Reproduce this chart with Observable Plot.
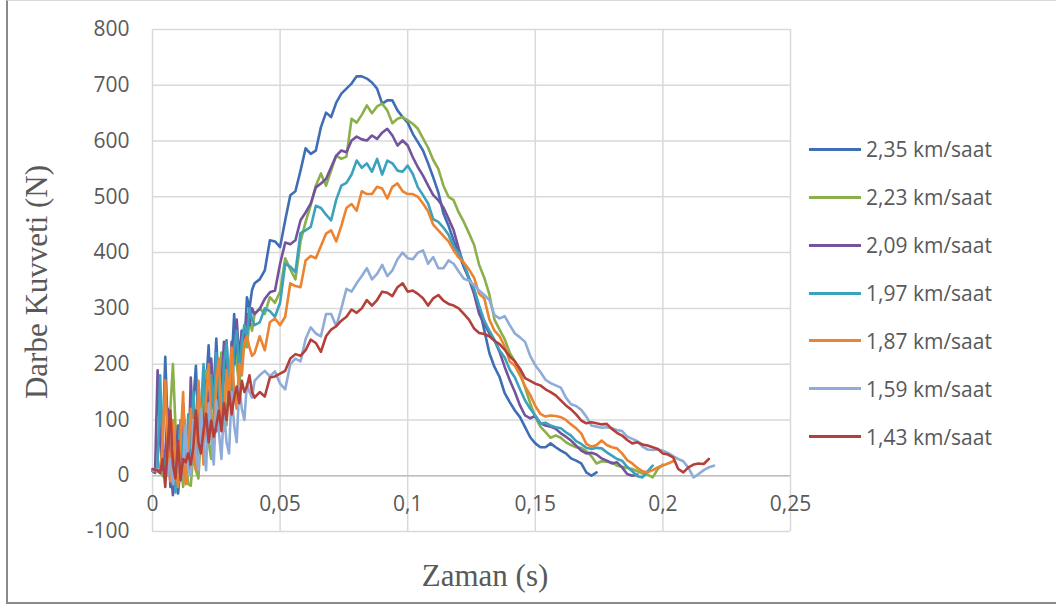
<!DOCTYPE html>
<html>
<head>
<meta charset="utf-8">
<script src="https://cdn.jsdelivr.net/npm/d3@7"></script>
<script src="https://cdn.jsdelivr.net/npm/@observablehq/plot@0.6"></script>
<style>
  html, body { margin: 0; padding: 0; background: #fff; }
  #wrap { position: relative; width: 1056px; height: 608px; overflow: hidden; background: #fff; }
  #frame { position: absolute; left: 6px; top: 0; width: 1100px; height: 601px; border: 2px solid #8a8a8a; border-top: 1px solid #d9d9d9; box-sizing: content-box; }
  #chart { position: absolute; left: 0; top: 0; }
  .atitle { position: absolute; font-family: "Liberation Serif", "Times New Roman", serif; font-size: 31px; color: #595959; white-space: nowrap; transform: translate(-50%, -50%); }
  #ytitle { left: 37px; top: 282px; transform: translate(-50%, -50%) rotate(-90deg); }
  #xtitle { left: 485px; top: 576px; }
  .lg { position: absolute; font-family: "Open Sans", sans-serif; font-size: 21px; color: #595959; white-space: nowrap; }
  .lgline { position: absolute; height: 3px; width: 52px; }
</style>
</head>
<body>
<div id="wrap">
  <div id="frame"></div>
  <div id="chart"></div>
  <div id="ytitle" class="atitle">Darbe Kuvveti (N)</div>
  <div id="xtitle" class="atitle">Zaman (s)</div>
  <div id="legend"></div>
</div>
<script>
// Shared time axis (s)
const time = [
  0,0.001,0.002,0.003,0.004,0.005,0.006,0.007,0.008,0.009,
  0.010,0.011,0.012,0.013,0.014,0.015,0.016,0.017,0.018,0.019,
  0.020,0.021,0.022,0.023,0.024,0.025,0.026,0.027,0.028,0.029,
  0.030,0.031,0.032,0.033,0.034,0.035,0.036,0.037,0.038,0.039,
  0.040,
  0.042,0.044,0.046,0.048,0.050,0.052,0.054,0.056,0.058,0.060,
  0.062,0.064,0.066,0.068,0.070,0.072,0.074,0.076,0.078,0.080,
  0.082,0.084,0.086,0.088,0.090,0.092,0.094,0.096,0.098,0.100,
  0.102,0.104,0.106,0.108,0.110,0.112,0.114,0.116,0.118,0.120,
  0.122,0.124,0.126,0.128,0.130,0.132,0.134,0.136,0.138,0.140,
  0.142,0.144,0.146,0.148,0.150,0.152,0.154,0.156,0.158,0.160,
  0.162,0.164,0.166,0.168,0.170,0.172,0.174,0.176,0.178,0.180,
  0.182,0.184,0.186,0.188,0.190,0.192,0.194,0.196,0.198,0.200,
  0.202,0.204,0.206,0.208,0.210,0.212,0.214,0.216,0.218,0.220
];

// 2,35 km/saat
const s235 = [
  10,10,8,5,60,213,80,-20,-10,60,
  -32,20,90,40,10,60,130,197,90,50,
  130,160,234,120,150,246,140,110,180,243,
  150,200,290,200,180,260,230,320,300,333,
  345,
  352,368,422,420,410,458,503,510,547,587,
  577,583,625,651,643,669,685,694,703,716,
  716,712,705,694,667,673,673,655,643,633,
  613,598,583,560,535,508,470,448,422,398,
  374,354,333,302,261,220,195,177,148,132,
  117,105,87,69,58,51,51,58,51,45,
  40,31,27,22,6,0,6
];
// 2,23 km/saat
const s223 = [
  10,10,8,6,0,-5,20,120,200,90,
  -10,40,-20,30,-15,-18,40,10,-5,80,
  150,189,60,30,120,80,160,221,130,90,
  180,150,230,200,160,220,270,230,280,260,
  290,
  300,290,320,310,330,390,370,352,420,455,
  485,520,542,520,547,574,568,572,640,633,
  647,664,650,662,667,655,632,640,643,637,
  631,622,605,588,566,550,520,500,494,472,
  455,435,414,378,355,325,280,262,245,220,
  205,185,158,130,105,88,78,68,72,68,
  60,55,51,50,44,35,22,26,25,24,
  18,16,14,12,8,4,2,-3,12,20
];
// 2,09 km/saat
const s209 = [
  8,5,189,60,10,40,120,20,-35,20,
  90,30,130,60,10,176,70,40,150,90,
  60,170,110,210,140,80,200,150,240,170,
  140,240,200,280,210,260,240,290,270,300,
  290,
  299,317,329,332,380,418,415,422,458,472,
  488,517,524,532,553,574,583,580,601,608,
  603,601,610,604,615,622,610,592,601,592,
  571,553,538,520,503,494,481,461,440,407,
  377,353,326,290,272,255,243,222,195,171,
  150,126,108,103,107,94,90,88,84,76,
  70,63,54,45,40,41,38,31,27,22,
  24,15,3,0,2
];
// 1,97 km/saat
const s197 = [
  10,8,15,180,40,0,60,-10,20,-30,
  40,100,20,0,110,50,150,80,20,120,
  200,100,60,180,120,220,150,100,200,240,
  160,130,230,260,180,240,270,250,300,280,
  270,
  275,300,295,285,310,380,375,365,435,440,
  446,484,480,468,458,495,520,525,540,565,
  552,560,545,568,540,565,560,547,545,556,
  541,517,503,488,460,455,445,432,410,400,
  380,355,335,305,278,260,243,225,212,190,
  176,155,135,120,108,93,95,90,87,85,
  78,72,62,57,50,48,50,49,42,36,
  30,27,16,8,-1,-3,8,18
];
// 1,87 km/saat
const s187 = [
  10,10,8,5,60,171,50,-10,100,30,
  -20,60,150,-15,40,120,60,10,170,90,
  20,140,200,100,50,170,210,110,80,190,
  140,230,150,120,200,180,240,250,230,215,
  220,
  250,225,275,282,270,285,345,340,338,386,
  394,390,412,434,440,420,448,480,487,475,
  510,505,505,518,515,497,518,524,510,505,
  505,500,488,474,450,440,430,420,404,391,
  382,370,355,326,318,280,260,250,232,205,
  197,180,160,145,125,111,106,108,107,105,
  100,92,85,76,57,52,55,63,55,51,
  49,40,28,22,14,8,6,10,15,18,
  22,26
];
// 1,59 km/saat
const s159 = [
  10,10,12,8,5,10,0,30,-15,10,
  60,-10,20,90,10,0,100,40,10,120,
  60,10,130,70,20,135,80,30,120,60,
  40,150,90,60,160,120,100,165,150,140,
  170,
  180,188,178,187,165,155,200,210,205,245,
  266,255,250,290,290,268,300,335,330,345,
  358,372,352,362,378,358,368,388,400,390,
  388,400,404,380,392,372,372,386,380,366,
  353,350,342,332,324,315,288,282,286,270,
  255,248,240,215,198,186,172,166,162,158,
  140,128,125,118,106,90,88,86,87,85,
  82,80,70,66,62,52,47,46,47,45,
  41,35,30,26,14,-3,3,10,15,18
];
// 1,43 km/saat
const s143 = [
  12,10,10,5,30,-20,60,117,20,-5,
  63,-8,30,24,40,20,51,117,60,40,
  81,111,60,99,70,90,117,80,130,100,
  150,110,140,160,130,170,150,160,180,150,
  140,
  150,142,176,178,183,188,210,218,215,225,
  244,238,222,250,262,268,278,285,298,292,
  300,315,305,315,330,328,322,338,345,330,
  332,326,318,305,318,324,314,308,305,300,
  290,280,264,256,254,250,242,236,226,214,
  205,192,175,170,165,162,155,150,144,135,
  126,119,110,99,94,96,94,92,93,84,
  77,72,64,58,60,56,54,51,48,40,
  38,33,12,6,15,20,22,21,30
];

const seriesNames = ["2,35 km/saat","2,23 km/saat","2,09 km/saat","1,97 km/saat","1,87 km/saat","1,59 km/saat","1,43 km/saat"];
const seriesValues = [s235, s223, s209, s197, s187, s159, s143];
const seriesColors = ["#3F6EB5","#8BB04B","#73539D","#3AA2BC","#EC8331","#8FACD8","#B4403B"];

const xTicks = [0, 0.05, 0.1, 0.15, 0.2, 0.25];
const xTickLabels = ["0","0,05","0,1","0,15","0,2","0,25"];
const yTicks = [-100, 0, 100, 200, 300, 400, 500, 600, 700, 800];

const lineMarks = seriesValues.map((vals, k) => {
  const rows = vals.map((v, i) => ({t: time[i], v}));
  return Plot.line(rows, {x: "t", y: "v", stroke: seriesColors[k], strokeWidth: 2.6, strokeLinejoin: "round", strokeLinecap: "round"});
});

const chart = Plot.plot({
  width: 1056,
  height: 608,
  marginLeft: 152,
  marginRight: 266,
  marginTop: 29,
  marginBottom: 77,
  x: {domain: [0, 0.25], axis: null},
  y: {domain: [-100, 800]},
  style: {fontFamily: "'Open Sans', sans-serif", fontSize: "21px", color: "#595959", background: "transparent", overflow: "visible"},
  marks: [
    Plot.gridX(xTicks, {stroke: "#d9d9d9", strokeOpacity: 1, strokeWidth: 1.5}),
    Plot.gridY(yTicks, {stroke: "#d9d9d9", strokeOpacity: 1, strokeWidth: 1.5}),
    Plot.ruleY([0], {stroke: "#bfbfbf", strokeWidth: 1.6}),
    Plot.axisY(yTicks, {tickSize: 0, tickPadding: 23, tickFormat: d => String(d), label: null, fontSize: 21, fill: "#595959"}),
    Plot.text(xTicks, {x: d => d, y: () => 0, text: (d, i) => xTickLabels[i], dy: 29, fontSize: 21, fill: "#595959", textAnchor: "middle"}),
    ...lineMarks
  ]
});
document.getElementById("chart").appendChild(chart);

// Legend
const legend = document.getElementById("legend");
seriesNames.forEach((name, k) => {
  const cy = 149.3 + 47.9 * k;
  const ln = document.createElement("div");
  ln.className = "lgline";
  ln.style.left = "809px";
  ln.style.top = (cy - 1.5) + "px";
  ln.style.background = seriesColors[k];
  legend.appendChild(ln);
  const tx = document.createElement("div");
  tx.className = "lg";
  tx.style.left = "866px";
  tx.style.top = (cy - 15) + "px";
  tx.style.lineHeight = "30px";
  tx.textContent = name;
  legend.appendChild(tx);
});
</script>
</body>
</html>
